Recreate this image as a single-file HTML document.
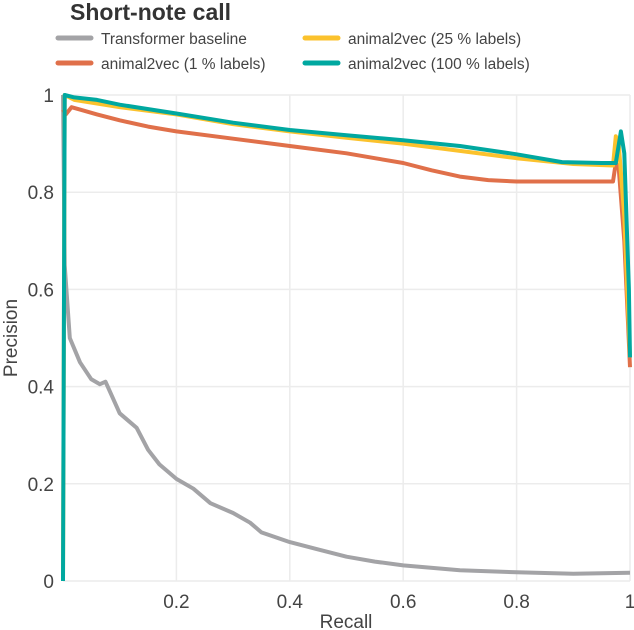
<!DOCTYPE html>
<html><head><meta charset="utf-8"><style>
body{margin:0;background:#fff;}
svg{display:block;font-family:"Liberation Sans",sans-serif;}
</style></head><body>
<svg id="chart" width="634" height="630" viewBox="0 0 634 630">
<text x="70" y="20" font-size="23" font-weight="bold" fill="#333">Short-note call</text>
<g id="legend"></g>
<g id="grid"></g>
<g id="series"></g>
<g id="ticks"></g>
<text x="346" y="628" font-size="19" text-anchor="middle" fill="#444">Recall</text>
<text transform="translate(17,338) rotate(-90)" font-size="19" text-anchor="middle" fill="#444">Precision</text>
</svg>
<script>
const xTicks=[0.2,0.4,0.6,0.8,1];
const xTickLabels=["0.2","0.4","0.6","0.8","1"];
const yTicks=[0,0.2,0.4,0.6,0.8,1];
const yTickLabels=["0","0.2","0.4","0.6","0.8","1"];
const seriesNames=["Transformer baseline","animal2vec (1 % labels)","animal2vec (25 % labels)","animal2vec (100 % labels)"];
const baselineRecall=[0,0.003,0.012,0.03,0.05,0.065,0.075,0.1,0.13,0.15,0.17,0.2,0.23,0.26,0.3,0.33,0.35,0.4,0.45,0.5,0.55,0.6,0.7,0.8,0.9,1.0];
const baselinePrecision=[1,0.65,0.5,0.45,0.415,0.405,0.41,0.345,0.315,0.27,0.24,0.21,0.19,0.16,0.14,0.12,0.1,0.08,0.065,0.05,0.04,0.032,0.022,0.018,0.015,0.017];
const l1Recall=[0,0.005,0.015,0.03,0.06,0.1,0.15,0.2,0.3,0.4,0.5,0.55,0.6,0.65,0.7,0.75,0.8,0.9,0.97,0.975,0.98,0.99,1.0];
const l1Precision=[0.97,0.96,0.975,0.97,0.96,0.948,0.935,0.925,0.91,0.895,0.88,0.87,0.86,0.845,0.832,0.825,0.822,0.822,0.822,0.86,0.85,0.7,0.44];
const l25Recall=[0,0.003,0.02,0.1,0.2,0.3,0.4,0.5,0.6,0.7,0.8,0.9,0.97,0.975,0.98,0.99,1.0];
const l25Precision=[0,1.0,0.99,0.975,0.96,0.94,0.925,0.912,0.9,0.885,0.87,0.858,0.855,0.915,0.9,0.75,0.46];
const l100Recall=[0,0.003,0.02,0.06,0.1,0.2,0.3,0.4,0.5,0.6,0.7,0.8,0.88,0.95,0.975,0.984,0.99,0.998,1.0];
const l100Precision=[0,1.0,0.995,0.99,0.98,0.962,0.943,0.928,0.917,0.907,0.895,0.878,0.862,0.86,0.86,0.925,0.88,0.6,0.46];
const colors=["#a3a3a6","#e0704a","#fbc22d","#00a8a0"];

const NS="http://www.w3.org/2000/svg";
const X0=63,X1=630,Y0=581,Y1=95;
const sx=v=>X0+v*(X1-X0), sy=v=>Y0-v*(Y0-Y1);
function mk(t,a,p){const e=document.createElementNS(NS,t);for(const k in a)e.setAttribute(k,a[k]);p.appendChild(e);return e;}
const grid=document.getElementById('grid'),ticks=document.getElementById('ticks'),ser=document.getElementById('series'),leg=document.getElementById('legend');
xTicks.forEach((v,i)=>{
  const l=mk('line',{x1:sx(v),x2:sx(v),y1:Y1,y2:Y0,stroke:'#ececec','stroke-width':1.5},grid);
  
  
  const t=mk('text',{x:sx(v),y:608,'font-size':19,'text-anchor':'middle',fill:'#444'},ticks);
  t.textContent=xTickLabels[i];
  
  
});
yTicks.forEach((v,i)=>{
  const l=mk('line',{x1:X0,x2:X1,y1:sy(v),y2:sy(v),stroke:'#ececec','stroke-width':1.5},grid);
  
  
  const t=mk('text',{x:54,y:sy(v)+7,'font-size':19,'text-anchor':'end',fill:'#444'},ticks);
  t.textContent=yTickLabels[i];
  
  
});
const data=[[baselineRecall,baselinePrecision],[l1Recall,l1Precision],[l25Recall,l25Precision],[l100Recall,l100Precision]];
data.forEach((d,i)=>{
  const pts=d[0].map((r,j)=>sx(r).toFixed(1)+','+sy(d[1][j]).toFixed(1)).join(' ');
  const p=mk('polyline',{points:pts,fill:'none',stroke:colors[i],'stroke-width':4,'stroke-linejoin':'round'},ser);
  
  
});
const lp=[[58,40],[58,65],[305,40],[305,65]];
seriesNames.forEach((n,i)=>{
  const [x,y]=lp[i];
  const l=mk('line',{x1:x,x2:x+33,y1:y-2,y2:y-2,stroke:colors[i],'stroke-width':5,'stroke-linecap':'round'},leg);
  
  
  const t=mk('text',{x:x+43,y:y+4,'font-size':15.5,fill:'#444'},leg);
  t.textContent=n;
  
  
});
</script>
</body></html>
